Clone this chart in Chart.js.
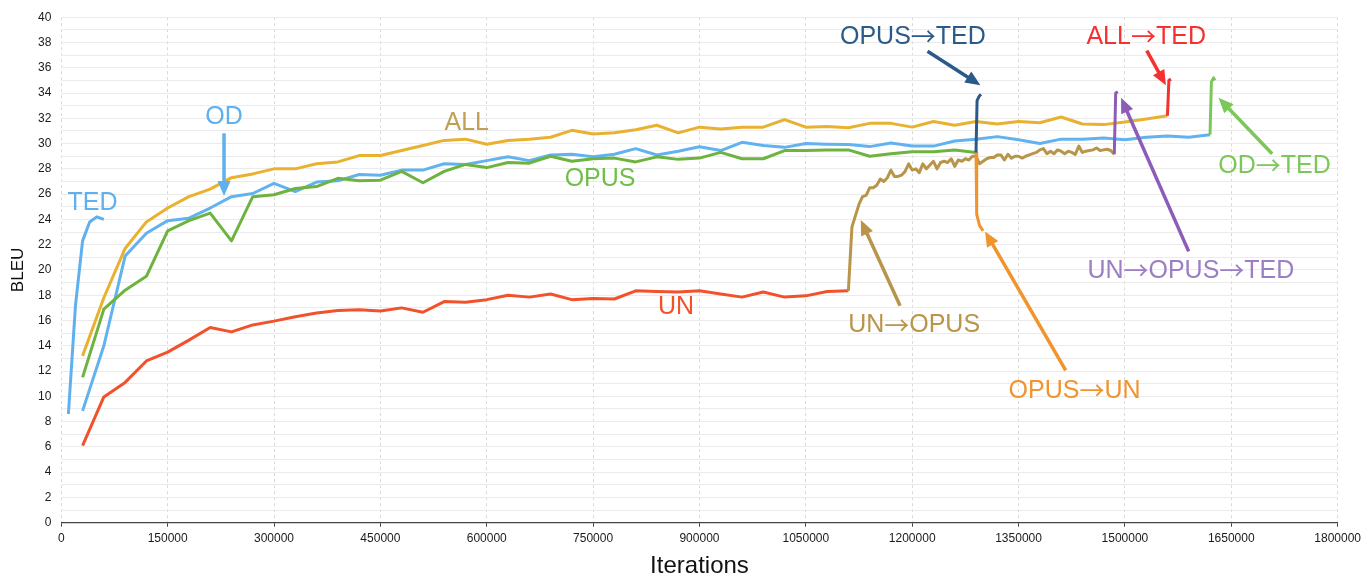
<!DOCTYPE html>
<html>
<head>
<meta charset="utf-8">
<script src="https://cdn.jsdelivr.net/npm/chart.js@4/dist/chart.umd.min.js"></script>
<style>
    body { margin: 0; background: #fff; }
    #wrap { width: 1366px; height: 581px; position: relative; }
</style>
</head>
<body>
<div id="wrap"><canvas id="myChart"></canvas></div>
<script>
// iterations shared by the long runs (one eval every 30k)
const iters = [30000, 60000, 90000, 120000, 150000, 180000, 210000, 240000, 270000, 300000,
    330000, 360000, 390000, 420000, 450000, 480000, 510000, 540000, 570000, 600000,
    630000, 660000, 690000, 720000, 750000, 780000, 810000, 840000, 870000, 900000,
    930000, 960000, 990000, 1020000, 1050000, 1080000, 1110000, 1140000, 1170000, 1200000,
    1230000, 1260000, 1290000, 1320000, 1350000, 1380000, 1410000, 1440000, 1470000, 1500000,
    1530000, 1560000, 1590000, 1620000];

const allBleu = [13.2, 17.8, 21.7, 23.8, 24.9, 25.8, 26.4, 27.3, 27.6, 28.0,
    28.0, 28.4, 28.55, 29.05, 29.05, 29.45, 29.85, 30.25, 30.35, 29.95,
    30.25, 30.35, 30.5, 31.05, 30.75, 30.85, 31.1, 31.45, 30.85, 31.3,
    31.15, 31.3, 31.3, 31.9, 31.3, 31.35, 31.25, 31.6, 31.6, 31.3,
    31.75, 31.45, 31.75, 31.55, 31.75, 31.65, 32.1, 31.55, 31.5, 31.7,
    31.95, 32.2];

const odBleu = [8.85, 14.0, 21.1, 22.9, 23.9, 24.1, 24.9, 25.8, 26.05, 26.85,
    26.2, 26.95, 27.05, 27.55, 27.5, 27.9, 27.9, 28.4, 28.35, 28.65,
    28.95, 28.65, 29.1, 29.15, 28.95, 29.15, 29.6, 29.1, 29.4, 29.75,
    29.45, 30.1, 29.85, 29.7, 30.0, 29.95, 29.92, 29.76, 30.05, 29.8,
    29.8, 30.2, 30.35, 30.55, 30.3, 30.0, 30.35, 30.35, 30.45, 30.3,
    30.5, 30.6, 30.5, 30.7];

const opusBleu = [11.5, 16.9, 18.4, 19.5, 23.1, 23.9, 24.5, 22.3, 25.8, 25.95,
    26.45, 26.6, 27.25, 27.05, 27.1, 27.8, 26.9, 27.8, 28.35, 28.1,
    28.5, 28.45, 29.0, 28.6, 28.8, 28.85, 28.55, 28.95, 28.75, 28.85,
    29.3, 28.8, 28.8, 29.45, 29.45, 29.5, 29.5, 29.0, 29.2, 29.35,
    29.35, 29.5, 29.3];

const unBleu = [6.1, 9.95, 11.1, 12.8, 13.5, 14.45, 15.45, 15.1, 15.65, 15.95,
    16.3, 16.6, 16.8, 16.85, 16.75, 17.0, 16.65, 17.5, 17.45, 17.65,
    18.0, 17.85, 18.1, 17.65, 17.75, 17.7, 18.35, 18.3, 18.25, 18.35,
    18.1, 17.85, 18.25, 17.85, 17.95, 18.3, 18.35];

// TED alone, short run
const tedIters = [10000, 20000, 30000, 40000, 50000, 60000];
const tedBleu = [8.6, 17.2, 22.3, 23.8, 24.2, 24.0];

// UN -> OPUS, evaluated every 5k
const unOpusIters = [1110000, 1115000, 1120000, 1125000, 1130000, 1135000, 1140000, 1145000, 1150000, 1155000,
    1160000, 1165000, 1170000, 1175000, 1180000, 1185000, 1190000, 1195000, 1200000, 1205000,
    1210000, 1215000, 1220000, 1225000, 1230000, 1235000, 1240000, 1245000, 1250000, 1255000,
    1260000, 1265000, 1270000, 1275000, 1280000, 1285000, 1290000, 1295000, 1300000, 1305000,
    1310000, 1315000, 1320000, 1325000, 1330000, 1335000, 1340000, 1345000, 1350000, 1355000,
    1360000, 1365000, 1370000, 1375000, 1380000, 1385000, 1390000, 1395000, 1400000, 1405000,
    1410000, 1415000, 1420000, 1425000, 1430000, 1435000, 1440000, 1445000, 1450000, 1455000,
    1460000, 1465000, 1470000, 1475000, 1480000, 1485000];
const unOpusBleu = [18.35, 23.4, 24.3, 25.2, 25.8, 25.9, 26.5, 26.5, 26.7, 27.2,
    27.0, 27.3, 27.9, 27.4, 27.4, 27.5, 27.8, 28.4, 27.9, 28.0,
    27.7, 28.4, 28.0, 28.3, 28.6, 28.0, 28.5, 28.6, 28.5, 28.8,
    28.2, 28.7, 28.6, 28.8, 28.7, 29.0, 29.0, 28.4, 28.6, 28.8,
    28.9, 28.9, 29.1, 29.1, 28.7, 29.15, 28.85, 29.0, 29.0, 28.85,
    29.0, 29.1, 29.2, 29.3, 29.5, 29.6, 29.2, 29.4, 29.2, 29.5,
    29.4, 29.2, 29.4, 29.3, 29.15, 29.8, 29.3, 29.4, 29.45, 29.5,
    29.65, 29.45, 29.5, 29.55, 29.45, 29.15];

// fine-tuning jumps
const opusTedIters = [1290000, 1291500, 1294500, 1297000];
const opusTedBleu = [29.3, 33.4, 33.75, 33.9];
const opusUnIters = [1290000, 1291000, 1295000, 1300000];
const opusUnBleu = [29.3, 24.4, 23.5, 23.1];
const unOpusTedIters = [1485000, 1487000, 1490000];
const unOpusTedBleu = [29.15, 34.0, 34.1];
const allTedIters = [1560000, 1562000, 1565000];
const allTedBleu = [32.2, 35.0, 35.1];
const odTedIters = [1620000, 1622000, 1625000, 1627000];
const odTedBleu = [30.7, 34.9, 35.2, 35.0];

const xTicks = { min: 0, max: 1800000, step: 150000 };
const yTicks = { min: 0, max: 40, step: 1 };

// labels written on the plot, with their arrows (iteration, BLEU)
const noteText = ["TED", "OD", "ALL", "OPUS", "UN", "UN→OPUS", "OPUS→UN", "OPUS→TED", "ALL→TED", "UN→OPUS→TED", "OD→TED"];
const noteIter = [44000, 229500, 571800, 759800, 867000, 1202700, 1429000, 1201000, 1530000, 1593000, 1711000];
const noteBleu = [25.3, 32.1, 31.6, 27.2, 17.05, 15.6, 10.43, 38.45, 38.45, 19.92, 28.2];
const noteColor = ["#5eb0ef", "#5eb0ef", "#c19f55", "#72be4a", "#f2522b", "#b8954a", "#f0942e", "#2c5a88", "#f53030", "#9b7ec4", "#7dc75a"];

const arrowFrom = [[229500, 30.81], [1221600, 37.31], [1530800, 37.36], [1707600, 29.2], [1589900, 21.47], [1182900, 17.17], [1416500, 12.05]];
const arrowTo = [[229500, 25.86], [1296200, 34.62], [1557800, 34.62], [1632000, 33.62], [1494600, 33.62], [1127500, 23.95], [1302800, 23.05]];
const arrowColor = ["#5eb0ef", "#2c5a88", "#f53030", "#7dc75a", "#8c5cb8", "#b8954a", "#f0942e"];

const FONT = '"Liberation Sans", Arial, Helvetica, sans-serif';
const NOTE_FONT = "25px " + FONT;
const ARROW_FONT = '25px "Noto Sans CJK JP", "DejaVu Sans", sans-serif';

function pts(xs, ys) {
    return ys.map((v, i) => ({ x: xs[i], y: v }));
}

function series(label, xs, ys, color) {
    return {
        label: label,
        data: pts(xs, ys),
        showLine: true,
        borderColor: color,
        backgroundColor: color,
        borderWidth: 3,
        pointRadius: 0,
        tension: 0,
        borderJoinStyle: "round",
    };
}

// text with the arrow glyph taken from a font where it is long and centred
function drawNote(ctx, text, cx, cy) {
    const parts = text.split(/(→)/).filter((p) => p.length);
    const widths = parts.map((p) => {
        ctx.font = p === "→" ? ARROW_FONT : NOTE_FONT;
        return ctx.measureText(p).width;
    });
    let x = cx - widths.reduce((a, b) => a + b, 0) / 2;
    parts.forEach((p, i) => {
        ctx.font = p === "→" ? ARROW_FONT : NOTE_FONT;
        ctx.fillText(p, x, p === "→" ? cy - 0.5 : cy);
        x += widths[i];
    });
}

const notesPlugin = {
    id: "notes",
    afterDatasetsDraw(chart) {
        const ctx = chart.ctx;
        const xs = chart.scales.x;
        const ys = chart.scales.y;
        ctx.save();
        // arrows
        arrowFrom.forEach((a, i) => {
            const x0 = xs.getPixelForValue(a[0]);
            const y0 = ys.getPixelForValue(a[1]);
            const x1 = xs.getPixelForValue(arrowTo[i][0]);
            const y1 = ys.getPixelForValue(arrowTo[i][1]);
            const len = Math.hypot(x1 - x0, y1 - y0);
            const ux = (x1 - x0) / len;
            const uy = (y1 - y0) / len;
            const head = 15;
            const half = 6.5;
            ctx.strokeStyle = arrowColor[i];
            ctx.fillStyle = arrowColor[i];
            ctx.lineWidth = 3.5;
            ctx.lineCap = "butt";
            ctx.beginPath();
            ctx.moveTo(x0, y0);
            ctx.lineTo(x1 - ux * (head - 2), y1 - uy * (head - 2));
            ctx.stroke();
            const bx = x1 - ux * head;
            const by = y1 - uy * head;
            ctx.beginPath();
            ctx.moveTo(x1, y1);
            ctx.lineTo(bx - uy * half, by + ux * half);
            ctx.lineTo(bx + uy * half, by - ux * half);
            ctx.closePath();
            ctx.fill();
        });
        // text
        ctx.textAlign = "left";
        ctx.textBaseline = "middle";
        noteText.forEach((t, i) => {
            ctx.fillStyle = noteColor[i];
            drawNote(ctx, t, xs.getPixelForValue(noteIter[i]), ys.getPixelForValue(noteBleu[i]));
        });
        ctx.restore();
    },
};

const ctx = document.getElementById("myChart");
const myChart = new Chart(ctx, {
    type: "scatter",
    data: {
        datasets: [
            series("OPUS→TED", opusTedIters, opusTedBleu, "#2c5a88"),
            series("OPUS→UN", opusUnIters, opusUnBleu, "#f0942e"),
            series("UN→OPUS→TED", unOpusTedIters, unOpusTedBleu, "#8c5cb8"),
            series("ALL→TED", allTedIters, allTedBleu, "#f53030"),
            series("OD→TED", odTedIters, odTedBleu, "#7dc75a"),
            series("UN→OPUS", unOpusIters, unOpusBleu, "#b8954a"),
            series("TED", tedIters, tedBleu, "#5eb0ef"),
            series("OPUS", iters, opusBleu, "#6db33f"),
            series("OD", iters, odBleu, "#62b2f0"),
            series("ALL", iters, allBleu, "#e8b130"),
            series("UN", iters, unBleu, "#f2522b"),
        ],
    },
    options: {
        responsive: true,
        maintainAspectRatio: false,
        animation: false,
        layout: { padding: { left: 0, top: 15.7, right: 28, bottom: 0 } },
        plugins: {
            legend: { display: false },
            tooltip: { enabled: false },
        },
        scales: {
            x: {
                type: "linear",
                min: xTicks.min,
                max: xTicks.max,
                afterFit(axis) {
                    axis.height = 58.3;
                },
                ticks: {
                    stepSize: xTicks.step,
                    autoSkip: false,
                    maxRotation: 0,
                    padding: 5,
                    color: "#1a1a1a",
                    font: { family: FONT, size: 12 },
                    callback: (v) => String(v),
                },
                grid: {
                    color: "#d9d9d9",
                    lineWidth: 1,
                    drawTicks: true,
                    tickLength: 4,
                    tickColor: "#444",
                    tickWidth: 1,
                },
                border: { display: true, color: "#444", width: 1.3, dash: [3, 3] },
                title: {
                    display: true,
                    text: "Iterations",
                    color: "#111",
                    font: { family: FONT, size: 24 },
                    padding: { top: -2, bottom: 0 },
                },
            },
            y: {
                min: yTicks.min,
                max: yTicks.max,
                afterFit(axis) {
                    axis.width = 61.3;
                },
                ticks: {
                    stepSize: yTicks.step,
                    autoSkip: false,
                    padding: 10,
                    color: "#1a1a1a",
                    font: { family: FONT, size: 12 },
                    callback: (v) => (v % 2 === 0 ? String(v) : ""),
                },
                grid: {
                    color: "#ebebeb",
                    lineWidth: 1,
                    drawTicks: false,
                },
                border: { display: false },
                title: {
                    display: true,
                    text: "BLEU",
                    color: "#111",
                    font: { family: FONT, size: 17 },
                    padding: { top: 8.5, bottom: 0 },
                },
            },
        },
    },
    plugins: [notesPlugin],
});
</script>
</body>
</html>
